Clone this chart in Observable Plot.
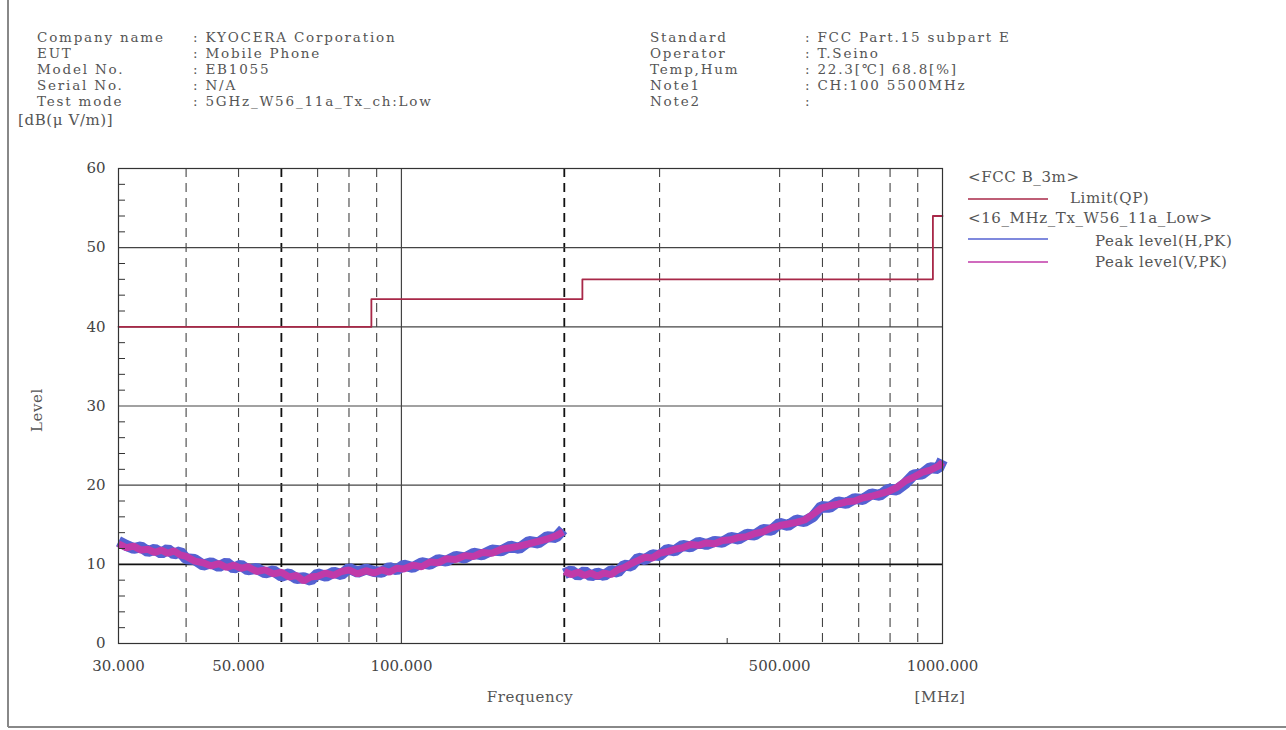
<!DOCTYPE html>
<html>
<head>
<meta charset="utf-8">
<script src="https://cdn.jsdelivr.net/npm/d3@7"></script>
<script src="https://cdn.jsdelivr.net/npm/@observablehq/plot@0.6"></script>
<style>
  html, body { margin: 0; padding: 0; background: #fff; }
  #chart { position: relative; width: 1286px; height: 730px; }
</style>
</head>
<body>
<div id="chart"></div>
<script>
// ---------- data ----------
const yTicks = [0, 10, 20, 30, 40, 50, 60];
const yMinorTicks = [2, 4, 6, 8, 12, 14, 16, 18, 22, 24, 26, 28, 32, 34, 36, 38, 42, 44, 46, 48, 52, 54, 56, 58];
const xTickValues = [30, 50, 100, 500, 1000];
const xTickLabels = ["30.000", "50.000", "100.000", "500.000", "1000.000"];
const hGridLevels = [10, 20, 30, 40, 50];
const solidFreqs = [100];
const dashFreqs = [40, 50, 70, 80, 90, 300, 500, 600, 700, 800, 900];
const boldDashFreqs = [60, 200];
const minorXTicks = [400];

// Limit (QP), FCC B 3m
const limitFreqs = [30, 88, 216, 960, 1000];
const limitLevels = [40, 43.5, 46, 54, 54];

// Segment 1: 30 - 200 MHz
const seg1Freqs = [30, 31, 32, 33, 34, 35, 36, 37, 38, 39, 40, 41.5, 43, 44.5, 46, 47.5, 49, 50.5, 52, 54, 56, 58, 60, 62, 64, 66, 68, 70, 72.5, 75, 77.5, 80, 83, 86, 89, 92, 95, 98, 101, 105, 109, 113, 117, 121, 126, 131, 136, 141, 147, 153, 159, 165, 172, 179, 186, 193, 199];
const seg1H = [12.9, 12.4, 12.0, 12.2, 11.6, 11.9, 11.4, 11.9, 11.3, 11.6, 10.7, 10.6, 9.9, 10.2, 9.7, 10.2, 9.5, 9.9, 9.3, 9.5, 8.9, 9.2, 8.5, 8.8, 8.2, 8.3, 8.0, 8.8, 8.5, 9.0, 8.7, 9.5, 9.0, 9.4, 9.1, 9.0, 9.6, 9.3, 9.9, 9.6, 10.2, 10.0, 10.6, 10.4, 11.0, 10.8, 11.4, 11.2, 11.8, 11.7, 12.3, 12.0, 12.9, 12.7, 13.5, 13.4, 14.4];
const seg1V = [12.6, 12.1, 12.3, 11.8, 11.9, 11.5, 11.8, 11.4, 11.7, 11.2, 11.0, 10.4, 10.2, 9.8, 10.1, 9.6, 9.9, 9.5, 9.7, 9.1, 9.3, 8.8, 9.0, 8.4, 8.6, 7.9, 8.4, 8.5, 8.9, 8.6, 9.1, 9.3, 8.8, 9.2, 8.9, 9.3, 9.0, 9.5, 9.4, 9.9, 9.7, 10.3, 10.2, 10.7, 10.6, 11.1, 11.0, 11.5, 11.4, 11.9, 12.1, 12.3, 12.6, 12.9, 13.2, 13.6, 14.1];

// Segment 2: 200 - 1000 MHz
const seg2Freqs = [200, 206, 212, 218, 224, 230, 237, 244, 251, 258, 266, 274, 282, 291, 300, 310, 320, 331, 342, 354, 366, 379, 392, 406, 420, 435, 450, 466, 483, 500, 518, 537, 556, 576, 597, 619, 641, 664, 688, 713, 739, 766, 794, 823, 853, 884, 916, 949, 983, 1000];
const seg2H = [8.8, 9.2, 8.6, 9.1, 8.5, 8.9, 8.6, 9.2, 9.0, 9.9, 9.8, 10.8, 10.6, 11.2, 11.1, 11.9, 11.7, 12.4, 12.2, 12.8, 12.5, 12.9, 12.8, 13.4, 13.2, 13.8, 13.7, 14.4, 14.3, 15.2, 14.9, 15.6, 15.4, 16.0, 17.3, 17.2, 17.9, 17.7, 18.3, 18.2, 18.9, 18.7, 19.5, 19.4, 20.2, 21.3, 21.4, 22.2, 22.1, 23.2];
const seg2V = [9.1, 8.7, 9.0, 8.6, 8.9, 8.5, 8.9, 8.7, 9.3, 9.6, 10.1, 10.5, 10.9, 10.8, 11.4, 11.6, 11.9, 12.1, 12.5, 12.4, 12.7, 12.6, 13.0, 13.1, 13.4, 13.5, 13.9, 14.1, 14.6, 14.9, 15.1, 15.3, 15.6, 16.3, 17.1, 17.4, 17.6, 17.9, 18.0, 18.4, 18.6, 18.9, 19.2, 19.7, 20.5, 21.0, 21.6, 21.9, 22.4, 22.9];

const colH = "#5462d2";
const colV = "#c03aa8";
const colLimit = "#a82848";

// ---------- tables ----------
const limitRows = limitFreqs.map((f, i) => ({f, v: limitLevels[i]}));
function rows(freqs, vals, seg) { return freqs.map((f, i) => ({f, v: vals[i], seg})); }
const hRows = rows(seg1Freqs, seg1H, 1).concat(rows(seg2Freqs, seg2H, 2));
const vRows = rows(seg1Freqs, seg1V, 1).concat(rows(seg2Freqs, seg2V, 2));

const FONT = "'DejaVu Serif', serif";

const svg = Plot.plot({
  width: 1286,
  height: 730,
  marginLeft: 118,
  marginRight: 344,
  marginTop: 168,
  marginBottom: 87,
  style: {fontFamily: FONT, fontSize: "15px", color: "#444", background: "transparent", overflow: "visible"},
  x: {type: "log", domain: [30, 1000]},
  y: {domain: [0, 60]},
  marks: [
    Plot.ruleX(dashFreqs, {stroke: "#444", strokeWidth: 1.1, strokeDasharray: "9,6"}),
    Plot.ruleX(boldDashFreqs, {stroke: "#111", strokeWidth: 1.8, strokeDasharray: "9,6"}),
    Plot.ruleX(solidFreqs, {stroke: "#444", strokeWidth: 1.2}),
    Plot.ruleY(hGridLevels, {stroke: d => d === 10 ? "#111" : "#444", strokeWidth: d => d === 10 ? 1.6 : 1.1}),
    Plot.line(limitRows, {x: "f", y: "v", curve: "step-after", stroke: colLimit, strokeWidth: 1.8}),
    Plot.line(hRows, {x: "f", y: "v", z: "seg", stroke: colH, strokeWidth: 11, strokeLinejoin: "miter", strokeLinecap: "butt"}),
    Plot.line(vRows, {x: "f", y: "v", z: "seg", stroke: colV, strokeWidth: 7, strokeLinejoin: "miter", strokeLinecap: "butt"}),
    Plot.axisY({ticks: yTicks, tickSize: 0, tickPadding: 13, label: null, fontSize: 15}),
    Plot.axisY({ticks: yMinorTicks, tickSize: 7, dx: 7, tickFormat: () => "", label: null, stroke: "#333"}),
    Plot.axisX({ticks: xTickValues, tickSize: 0, tickPadding: 17, label: null,
      tickFormat: d => xTickLabels[xTickValues.indexOf(d)], fontSize: 15}),
    Plot.axisX({ticks: minorXTicks, tickSize: 5, dy: -5, tickFormat: () => "", label: null, stroke: "#333"}),
    Plot.frame({stroke: "#333", strokeWidth: 1.2})
  ]
});

document.getElementById("chart").appendChild(svg);

// ---------- header, legend & labels ----------
const s = d3.select(svg);
const g = s.append("g").attr("font-family", FONT).attr("font-size", 15).attr("fill", "#555").attr("letter-spacing", "0.6px");
const hg = s.append("g").attr("font-family", FONT).attr("font-size", 13.5).attr("fill", "#555").attr("letter-spacing", "1.8px");

// outer frame lines
s.insert("line", ":first-child").attr("x1", 8).attr("x2", 8).attr("y1", 0).attr("y2", 727).attr("stroke", "#888").attr("stroke-width", 2);
s.insert("line", ":first-child").attr("x1", 8).attr("x2", 1286).attr("y1", 727).attr("y2", 727).attr("stroke", "#888").attr("stroke-width", 2);

const leftLabels = ["Company name", "EUT", "Model No.", "Serial No.", "Test mode"];
const leftValues = [": KYOCERA Corporation", ": Mobile Phone", ": EB1055", ": N/A", ": 5GHz_W56_11a_Tx_ch:Low"];
const rightLabels = ["Standard", "Operator", "Temp,Hum", "Note1", "Note2"];
const rightValues = [": FCC Part.15 subpart E", ": T.Seino", ": 22.3[\u2103] 68.8[%]", ": CH:100 5500MHz", ":"];
const rowY = [37, 53, 69, 85, 101];

function txt(sel, x, y, t, anchor) {
  return sel.append("text").attr("x", x).attr("y", y).attr("dy", "0.35em")
    .attr("text-anchor", anchor || "start").text(t);
}
leftLabels.forEach((t, i) => txt(hg, 37, rowY[i], t));
leftValues.forEach((t, i) => txt(hg, 193, rowY[i], t));
rightLabels.forEach((t, i) => txt(hg, 650, rowY[i], t));
rightValues.forEach((t, i) => txt(hg, 805, rowY[i], t));

txt(g, 18, 120, "[dB(\u03bc V/m)]");
g.append("text").attr("transform", "translate(37,410) rotate(-90)").attr("text-anchor", "middle").attr("dy", "0.35em").text("Level");
txt(g, 530, 697, "Frequency", "middle");
txt(g, 940, 697, "[MHz]", "middle");

// legend
txt(g, 968, 177, "<FCC B_3m>");
g.append("line").attr("x1", 968).attr("x2", 1048).attr("y1", 199).attr("y2", 199).attr("stroke", colLimit).attr("stroke-width", 1.5);
txt(g, 1070, 198, "Limit(QP)");
txt(g, 968, 218, "<16_MHz_Tx_W56_11a_Low>");
g.append("line").attr("x1", 968).attr("x2", 1048).attr("y1", 239).attr("y2", 239).attr("stroke", colH).attr("stroke-width", 1.5);
txt(g, 1095, 241, "Peak level(H,PK)");
g.append("line").attr("x1", 968).attr("x2", 1048).attr("y1", 262).attr("y2", 262).attr("stroke", colV).attr("stroke-width", 1.5);
txt(g, 1095, 262, "Peak level(V,PK)");
</script>
</body>
</html>
